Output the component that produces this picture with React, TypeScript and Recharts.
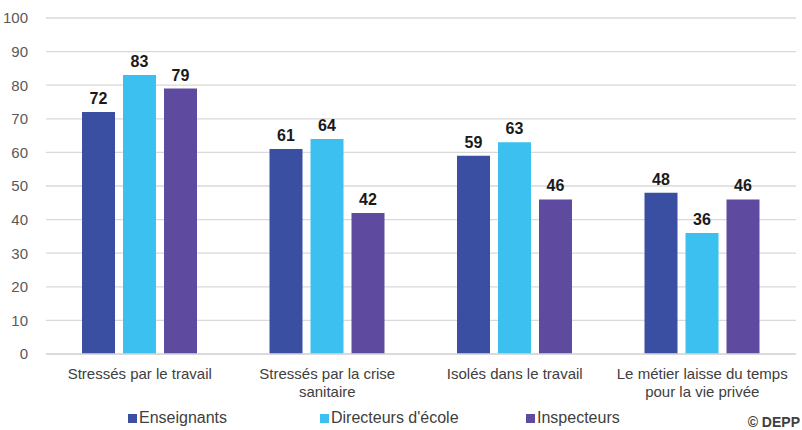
import { BarChart, Bar, XAxis, YAxis, CartesianGrid, LabelList, Legend } from 'recharts';

const categories = [
  'Stressés par le travail',
  'Stressés par la crise\nsanitaire',
  'Isolés dans le travail',
  'Le métier laisse du temps\npour la vie privée',
];
const enseignants = [72, 61, 59, 48];
const directeurs = [83, 64, 63, 36];
const inspecteurs = [79, 42, 46, 46];
const yTicks = [0, 10, 20, 30, 40, 50, 60, 70, 80, 90, 100];

const series = [
  { key: 'enseignants', name: 'Enseignants', color: '#3a4fa1' },
  { key: 'directeurs', name: "Directeurs d'école", color: '#3bc0ef' },
  { key: 'inspecteurs', name: 'Inspecteurs', color: '#5e4b9f' },
];

const data = categories.map((label, i) => ({
  label,
  enseignants: enseignants[i],
  directeurs: directeurs[i],
  inspecteurs: inspecteurs[i],
}));

const FONT = '"Liberation Sans", Arial, sans-serif';

function CategoryTick({ x, y, payload }: any) {
  const lines = String(payload.value).split('\n');
  return (
    <text x={x} y={y + 17} textAnchor="middle" fill="#404040" fontSize={15} fontFamily={FONT}>
      {lines.map((line, i) => (
        <tspan key={i} x={x} dy={i === 0 ? 0 : 18}>
          {line}
        </tspan>
      ))}
    </text>
  );
}

const legendX = [128, 320, 526];

function LegendContent() {
  return (
    <div style={{ position: 'relative', height: 20, width: 802, fontFamily: FONT }}>
      {series.map((s, i) => (
        <div
          key={s.key}
          style={{
            position: 'absolute',
            left: legendX[i],
            top: 0,
            display: 'flex',
            alignItems: 'center',
            gap: 2,
            fontSize: 16,
            color: '#404040',
          }}
        >
          <div style={{ width: 9, height: 9, background: s.color }} />
          {s.name}
        </div>
      ))}
    </div>
  );
}

export default function App() {
  return (
    <div style={{ position: 'absolute', left: 0, top: 0, width: 802, height: 430, background: '#fff', overflow: 'hidden' }}>
      <BarChart
        width={802}
        height={430}
        data={data}
        margin={{ top: 18, right: 6, bottom: 0, left: 0 }}
        barSize={33}
        barGap={8}
        barCategoryGap={35}
      >
        <CartesianGrid vertical={false} stroke="#d9d9d9" strokeWidth={1.3} />
        <XAxis
          dataKey="label"
          interval={0}
          tickLine={false}
          axisLine={{ stroke: '#d9d9d9', strokeWidth: 1.3 }}
          tick={<CategoryTick />}
          height={56}
        />
        <YAxis
          width={46}
          domain={[0, 100]}
          ticks={yTicks}
          axisLine={false}
          tickLine={false}
          tick={{ fill: '#595959', fontSize: 15, fontFamily: FONT }}
          tickMargin={12}
        />
        <Legend
          verticalAlign="bottom"
          content={<LegendContent />}
          wrapperStyle={{ left: 0, bottom: 1, width: 802 }}
        />
        {series.map((s) => (
          <Bar key={s.key} dataKey={s.key} name={s.name} fill={s.color} isAnimationActive={false}>
            <LabelList
              dataKey={s.key}
              position="top"
              offset={8}
              fill="#1a1a1a"
              fontSize={16}
              fontWeight="bold"
              fontFamily={FONT}
            />
          </Bar>
        ))}
      </BarChart>
      <div
        style={{
          position: 'absolute',
          right: 2,
          top: 414,
          fontFamily: FONT,
          fontSize: 14,
          fontWeight: 'bold',
          color: '#404040',
          whiteSpace: 'nowrap',
        }}
      >
        © DEPP
      </div>
    </div>
  );
}
